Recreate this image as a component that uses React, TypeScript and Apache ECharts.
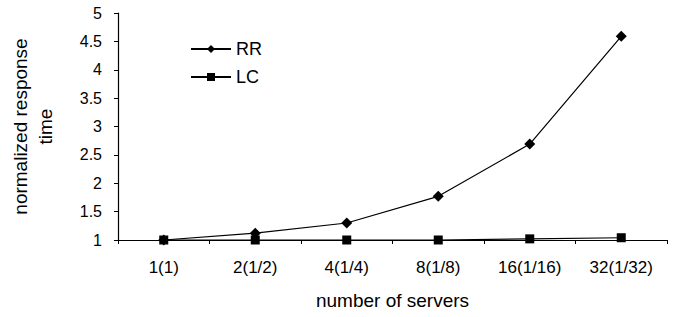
import React, { useEffect, useRef } from "react";
import * as echarts from "echarts";

const categories = ["1(1)", "2(1/2)", "4(1/4)", "8(1/8)", "16(1/16)", "32(1/32)"];
const rrValues = [1, 1.12, 1.3, 1.77, 2.69, 4.59];
const lcValues = [1, 1, 1, 1, 1.02, 1.04];
const yTicks = [1, 1.5, 2, 2.5, 3, 3.5, 4, 4.5, 5];

const FONT = "Liberation Sans";

export default function App() {
  const ref = useRef<HTMLDivElement>(null);
  useEffect(() => {
    if (!ref.current) return;
    const chart = echarts.init(ref.current, undefined, { renderer: "svg" });
    chart.setOption({
      animation: false,
      backgroundColor: "#fff",
      textStyle: { fontFamily: FONT, color: "#000" },
      grid: { left: 104, right: 9, top: 13, bottom: 77, containLabel: false },
      legend: {
        orient: "vertical",
        left: 185,
        top: 35,
        itemWidth: 40,
        itemHeight: 10,
        itemGap: 10,
        textStyle: { fontFamily: FONT, fontSize: 18, color: "#000" },
        data: ["RR", "LC"],
      },
      xAxis: {
        type: "category",
        data: categories,
        boundaryGap: true,
        name: "number of servers",
        nameLocation: "middle",
        nameGap: 51,
        nameTextStyle: { fontFamily: FONT, fontSize: 19, color: "#000" },
        axisLine: { lineStyle: { color: "#000", width: 1.2 } },
        axisTick: { show: true, length: 4, lineStyle: { color: "#000" } },
        axisLabel: { fontFamily: FONT, fontSize: 17, color: "#000", margin: 19 },
        splitLine: { show: false },
      },
      yAxis: {
        type: "value",
        min: 1,
        max: 5,
        interval: 0.5,
        name: "normalized response\ntime",
        nameLocation: "middle",
        nameRotate: 90,
        nameGap: 60,
        nameTextStyle: { fontFamily: FONT, fontSize: 19, color: "#000", lineHeight: 25 },
        axisLine: { show: true, lineStyle: { color: "#000", width: 1.2 } },
        axisTick: { show: true, length: 4, lineStyle: { color: "#000" } },
        axisLabel: {
          fontFamily: FONT,
          fontSize: 16,
          color: "#000",
          margin: 16,
          formatter: (v: number) => (yTicks.includes(v) ? String(v) : ""),
        },
        splitLine: { show: false },
      },
      series: [
        {
          name: "RR",
          type: "line",
          data: rrValues,
          symbol: "diamond",
          symbolSize: 11,
          lineStyle: { color: "#000", width: 1.2 },
          itemStyle: { color: "#000" },
        },
        {
          name: "LC",
          type: "line",
          data: lcValues,
          symbol: "rect",
          symbolSize: 9,
          lineStyle: { color: "#000", width: 1.2 },
          itemStyle: { color: "#000" },
        },
      ],
    });
    return () => chart.dispose();
  }, []);
  return (
    <div
      ref={ref}
      style={{ position: "absolute", left: 0, top: 0, width: 676, height: 317 }}
    />
  );
}
